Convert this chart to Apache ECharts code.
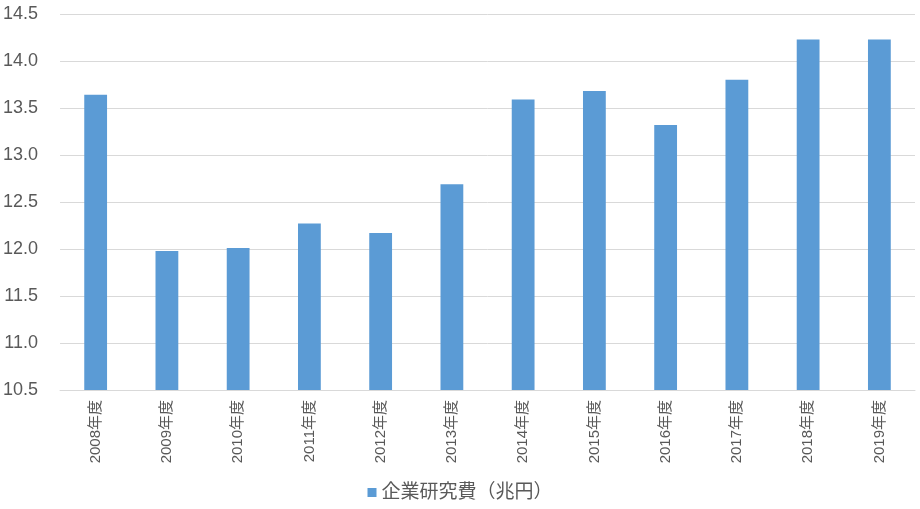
<!DOCTYPE html>
<html><head><meta charset="utf-8">
<script src="https://cdn.jsdelivr.net/npm/echarts@6/dist/echarts.min.js"></script>
<style>html,body{margin:0;padding:0;background:#fff}#c{width:920px;height:509px}</style>
</head><body><div id="c"></div>
<script>
const categories = ['2008年度','2009年度','2010年度','2011年度','2012年度','2013年度','2014年度','2015年度','2016年度','2017年度','2018年度','2019年度'];
const values = [13.64, 11.98, 12.01, 12.27, 12.17, 12.69, 13.59, 13.68, 13.32, 13.80, 14.23, 14.23];
const seriesName = '企業研究費（兆円）';
const font = '"Liberation Sans", "Noto Sans CJK JP", sans-serif';
const chart = echarts.init(document.getElementById('c'), null, {renderer:'canvas'});
chart.setOption({
  animation: false,
  textStyle: {fontFamily: font},
  grid: {left: 60, right: 5, top: 14, bottom: 119, containLabel: false},
  legend: {
    bottom: 2, left: 'center', icon: 'rect', itemWidth: 9, itemHeight: 9, itemGap: 5,
    textStyle: {fontSize: 19, color: '#595959', fontFamily: font},
    data: [seriesName]
  },
  xAxis: {
    type: 'category', data: categories,
    axisLine: {lineStyle: {color: '#d9d9d9'}},
    axisTick: {show: false},
    axisLabel: {rotate: 90, fontSize: 15, color: '#595959', margin: 10, interval: 0, fontFamily: font}
  },
  yAxis: {
    type: 'value', min: 10.5, max: 14.5, interval: 0.5,
    axisLine: {show: false}, axisTick: {show: false},
    splitLine: {lineStyle: {color: '#d9d9d9'}},
    axisLabel: {fontSize: 18, color: '#595959', margin: 22, formatter: v => v.toFixed(1), fontFamily: font}
  },
  series: [{
    name: seriesName, type: 'bar', data: values, barWidth: '32%',
    itemStyle: {color: '#5b9bd5'}
  }]
});
</script></body></html>
